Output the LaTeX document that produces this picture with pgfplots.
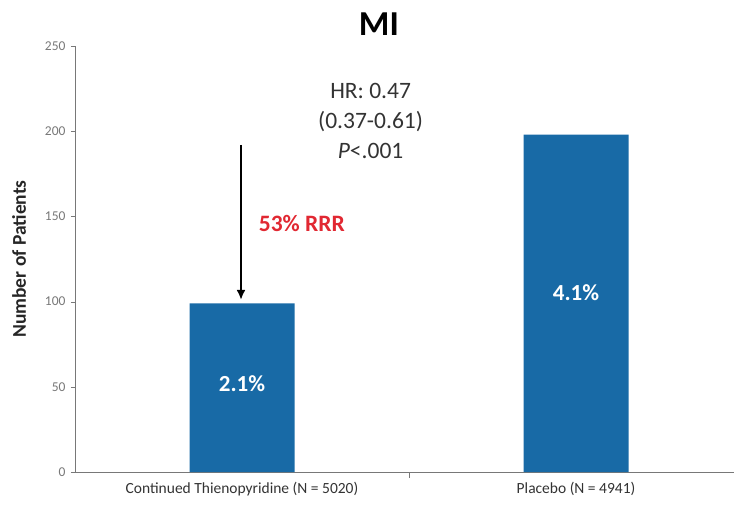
\documentclass[border=0pt]{standalone}
\usepackage{pgfplots}
\pgfplotsset{compat=1.18}
\usetikzlibrary{arrows.meta}
\usepackage{fontspec}
\setmainfont{Carlito}
\definecolor{barblue}{RGB}{24,106,166}
\definecolor{rrrred}{RGB}{225,40,50}
\definecolor{axgray}{RGB}{120,120,120}
\begin{document}
\begin{tikzpicture}
\path[use as bounding box] (-75pt,-40pt) rectangle (659pt,472pt);
\begin{axis}[
  scale only axis, width=659pt, height=426pt,
  xmin=-0.5, xmax=1.473, ymin=0, ymax=250,
  axis x line*=bottom, axis y line*=left,
  axis line style={axgray, line width=0.8pt},
  ytick={0,50,100,150,200,250},
  yticklabel style={font=\fontsize{13.5}{15}\selectfont, text=axgray, xshift=-2pt},
  /pgf/number format/assume math mode=true,
  ytick style={axgray}, tick align=outside, major tick length=4pt,
  xtick={0,1}, xticklabels={Continued Thienopyridine (N = 5020), Placebo (N = 4941)},
  xticklabel style={font=\fontsize{15.5}{17}\selectfont, text=black!80, yshift=-3pt},
  x tick style={draw=none},
  extra x ticks={0.5}, extra x tick labels={},
  extra x tick style={x tick style={draw=axgray}, major tick length=6pt},
  ylabel={\textbf{Number of Patients}},
  ylabel style={font=\fontsize{19.5}{22}\selectfont, text=black!85, at={(axis description cs:-0.085,0.5)}, anchor=center},
  clip=false,
]
\addplot[ybar, bar width=105pt, fill=barblue, draw=none] coordinates {(0,99) (1,198)};
\node[font=\fontsize{23}{26}\selectfont\bfseries, text=white] at (axis cs:0,52) {2.1\%};
\node[font=\fontsize{23}{26}\selectfont\bfseries, text=white] at (axis cs:1,105) {4.1\%};
\draw[-{Latex[length=10pt,width=9pt]}, line width=2.6pt] (axis cs:-0.003,192) -- (axis cs:-0.003,101);
\node[font=\fontsize{23.5}{26}\selectfont\bfseries, text=rrrred, anchor=west] at (axis cs:0.04,146) {53\% RRR};
\node[font=\fontsize{23.5}{30}\selectfont, text=black!80, align=center] at (axis cs:0.385,206) {HR: 0.47\\(0.37-0.61)\\\textit{P}<.001};
\node[font=\fontsize{35}{38}\selectfont\bfseries] at (axis cs:0.41,263) {MI};
\end{axis}
\end{tikzpicture}
\end{document}
